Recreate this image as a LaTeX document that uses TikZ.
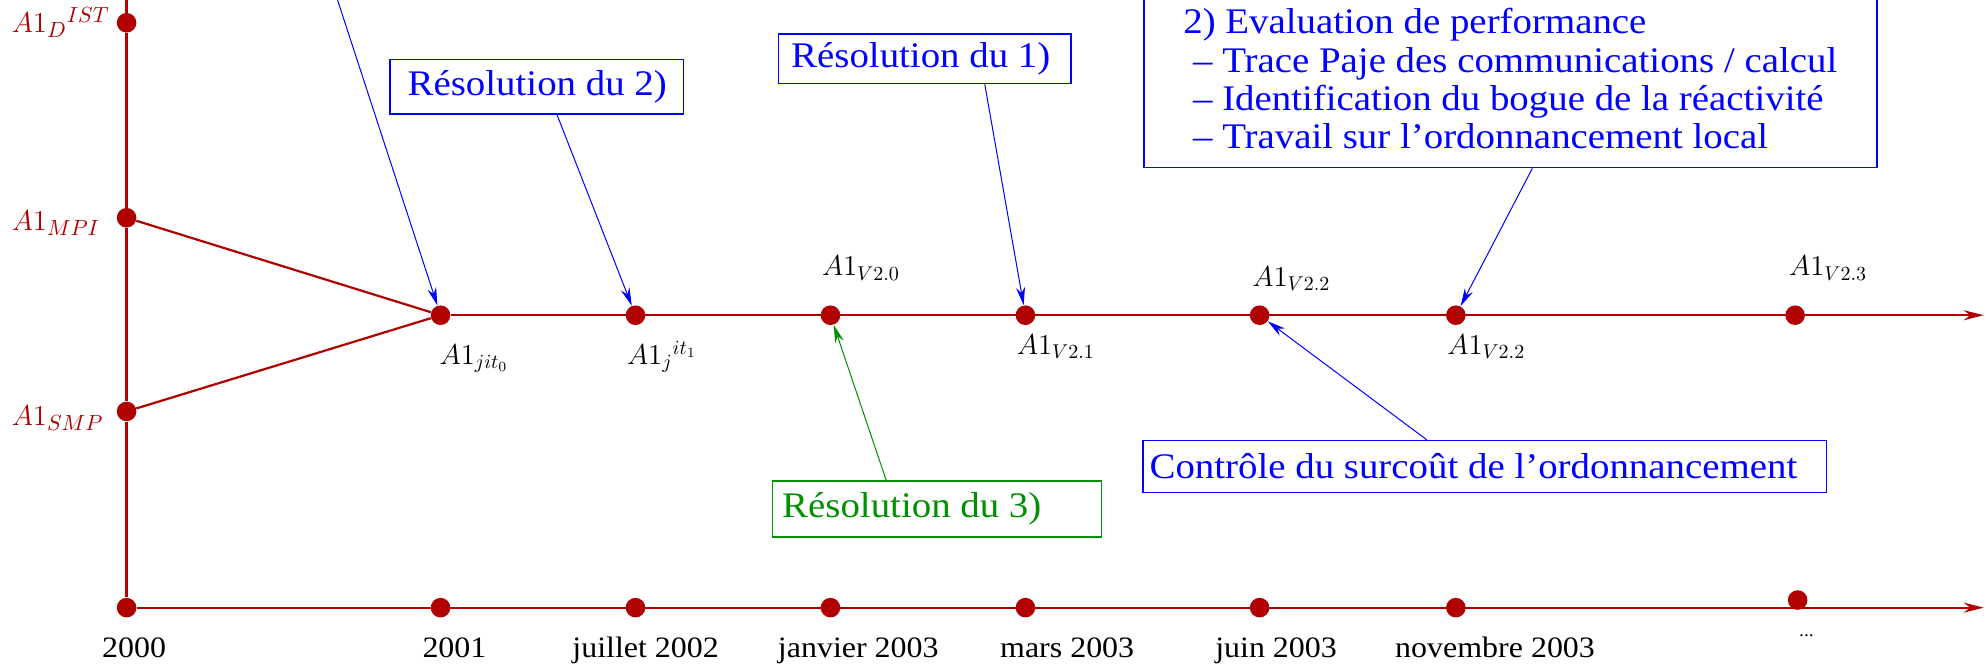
\documentclass[tikz,border=0pt]{standalone}
\usepackage{fontspec}
\setmainfont[FakeStretch=1.08]{Liberation Serif}
\usetikzlibrary{arrows.meta}
\definecolor{dred}{RGB}{176,0,0}
\definecolor{myblue}{RGB}{0,0,255}
\definecolor{mygreen}{RGB}{0,145,0}
\newcommand\lfttext[2]{\makebox[#1][l]{#2}}
\begin{document}
\begin{tikzpicture}[x=0.633pt,y=-0.633pt,
  dot/.style={circle, fill=dred, inner sep=0pt, minimum size=9.8pt},
  axis/.style={draw=dred, line width=1.1pt},
  axarrow/.style={axis, -{Stealth[length=10pt,width=5pt]}},
  ann/.style={draw=myblue, line width=0.5pt, -{Stealth[length=9pt,width=4.5pt]}},
  anng/.style={ann, draw=mygreen},
  cbox/.style={draw=myblue, line width=0.7pt, text=myblue, inner ysep=0pt,
    font=\fontsize{18}{19.2}\selectfont},
  gbox/.style={cbox, draw=mygreen, text=mygreen},
  date/.style={font=\fontsize{14.8}{16}\selectfont, inner sep=0pt, anchor=base},
  ver/.style={font=\fontsize{14.3}{17}\selectfont, inner sep=0pt, anchor=base west},
  lft/.style={font=\fontsize{15.3}{18}\selectfont, inner sep=0pt, anchor=base west, text=dred}]
\useasboundingbox (0,0) rectangle (1568,525);

% vertical axis dots
\coordinate (vtop) at (100,-3);
\node[dot] (d) at (100,18) {};
\node[dot] (mpi) at (100,172) {};
\node[dot] (smp) at (100,325) {};
\node[dot] (b0) at (100,480) {};

% middle axis dots
\node[dot] (m1) at (348,249) {};
\node[dot] (m2) at (502,249) {};
\node[dot] (m3) at (656,249) {};
\node[dot] (m4) at (810,249) {};
\node[dot] (m5) at (995,249) {};
\node[dot] (m6) at (1150,249) {};
\node[dot] (m7) at (1418,249) {};
\coordinate (mend) at (1567,249);

% bottom axis dots
\node[dot] (b1) at (348,480) {};
\node[dot] (b2) at (502,480) {};
\node[dot] (b3) at (656,480) {};
\node[dot] (b4) at (810,480) {};
\node[dot] (b5) at (995,480) {};
\node[dot] (b6) at (1150,480) {};
\node[dot] (b7) at (1420,474) {};
\coordinate (bend) at (1567,480);

% axes
\draw[axis] (vtop) -- (d) -- (mpi) -- (smp) -- (b0);
\draw[axis] (mpi) -- (m1);
\draw[axis] (smp) -- (m1);
\draw[axarrow] (m1) -- (mend);
\draw[axarrow] (b0) -- (bend);

% left labels
\node[lft] (ld) at (9,26) {$A1_D{}^{IST}$};
\node[lft] (lmpi) at (9,182) {$A1_{MPI}$};
\node[lft] (lsmp) at (9,336) {$A1_{SMP}$};

% version labels
\node[ver] (l1) at (347,288) {$A1_{jit_0}$};
\node[ver] (l2) at (495,288) {$A1_j{}^{it_1}$};
\node[ver] (l3) at (649,218) {$A1_{V2.0}$};
\node[ver] (l4) at (803,280) {$A1_{V2.1}$};
\node[ver] (l5) at (989,226) {$A1_{V2.2}$};
\node[ver] (l6) at (1143,280) {$A1_{V2.2}$};
\node[ver] (l7) at (1413,218) {$A1_{V2.3}$};

% dates
\node[date] (t0) at (106,519) {2000};
\node[date] (t1) at (359,519) {2001};
\node[date] (t2) at (510,519) {juillet 2002};
\node[date] (t3) at (678,519) {janvier 2003};
\node[date] (t4) at (843,519) {mars 2003};
\node[date] (t5) at (1008,519) {juin 2003};
\node[date] (t6) at (1181,519) {novembre 2003};
\node[date, font=\fontsize{9}{10}\selectfont] (t7) at (1427,503) {...};

% annotation boxes
\node[cbox, inner xsep=8.9pt, minimum width=146.9pt, minimum height=27.2pt]
  (r2) at (424,68.5) {\lfttext{129.1pt}{Résolution du 2)}};
\node[cbox, inner xsep=6.3pt, minimum width=146.2pt, minimum height=24.7pt]
  (r1) at (730.5,46.5) {\lfttext{133.6pt}{Résolution du 1)}};
\node[cbox, inner xsep=3.2pt, minimum width=341.8pt, minimum height=26pt]
  (ctl) at (1173,368.5) {\lfttext{335.4pt}{Contrôle du surcoût de l’ordonnancement}};
\node[gbox, inner xsep=5pt, minimum width=164.6pt, minimum height=27.9pt]
  (r3) at (740,402) {\lfttext{154.6pt}{Résolution du 3)}};
\node[cbox, align=left, inner ysep=6pt, minimum width=366.5pt, anchor=south west]
  (perf) at (903,133) {2) Evaluation de performance\\
  \ – Trace Paje des communications / calcul\\
  \ – Identification du bogue de la réactivité\\
  \ – Travail sur l’ordonnancement local\rule[-3.4pt]{0pt}{3.4pt}};

% annotation arrows
\coordinate (topstart) at (265,-5);
\draw[ann] (topstart) -- (m1);
\draw[ann] ([xshift=10.1pt]r2.south) -- (m2);
\draw[ann] ([xshift=30pt]r1.south) -- (m4);
\draw[ann] ([xshift=11pt]perf.south) -- (m6);
\draw[ann] ([xshift=-29.1pt]ctl.north) -- (m5);
\draw[anng] ([xshift=-25.3pt]r3.north) -- (m3);
\end{tikzpicture}
\end{document}
